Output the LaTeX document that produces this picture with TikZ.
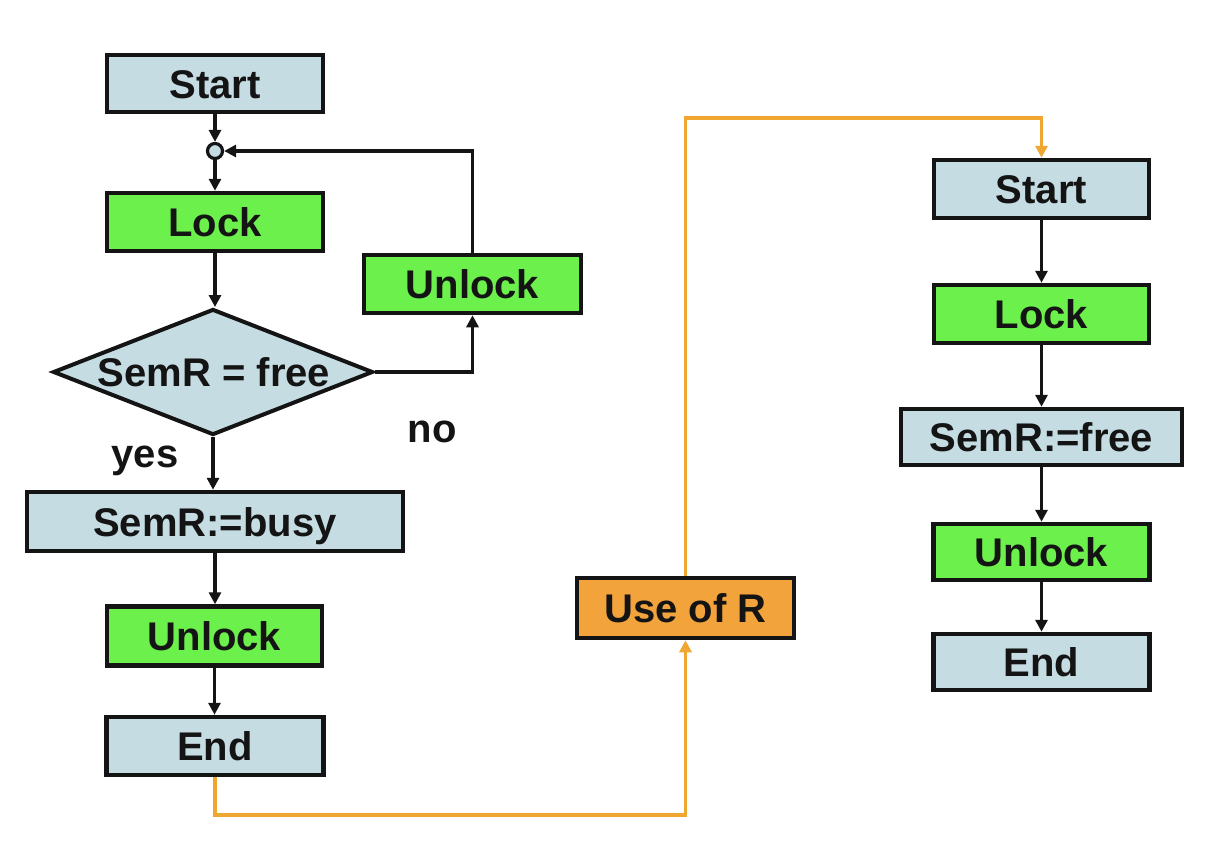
\documentclass[tikz,border=0pt]{standalone}
\usepackage{fontspec}
\setmainfont{Liberation Sans}
\usetikzlibrary{arrows.meta,shapes.geometric}
\definecolor{boxblue}{HTML}{C5DCE3}
\definecolor{boxgreen}{HTML}{6CF04B}
\definecolor{boxorange}{HTML}{F2A33C}
\definecolor{lineorange}{HTML}{F0A732}
\definecolor{ink}{HTML}{141414}
\begin{document}
\begin{tikzpicture}[x=1pt,y=-1pt,
  box/.style={draw=ink, line width=4.5pt, inner sep=0pt,
    font=\fontsize{40}{44}\selectfont\bfseries, text=ink,
    text height=29pt, text depth=0pt},
  bluebox/.style={box, fill=boxblue},
  greenbox/.style={box, fill=boxgreen},
  orangebox/.style={box, fill=boxorange},
  flow/.style={draw=ink, line width=3.5pt, -{Triangle[length=12pt,width=12pt]}},
  oflow/.style={draw=lineorange, line width=3.5pt, -{Triangle[length=12pt,width=12pt]}},
  lbl/.style={font=\fontsize{40}{44}\selectfont\bfseries, text=ink, inner sep=0pt}]
\useasboundingbox[fill=white] (0,0) rectangle (1210,860);

% left column
\node[bluebox, minimum width=216pt, minimum height=57pt] (s1) at (215,83.5) {Start};
\node[circle, draw=ink, fill=boxblue, line width=3.2pt, minimum size=15pt, inner sep=0pt] (c) at (215,151) {};
\node[greenbox, minimum width=216pt, minimum height=58pt] (l1) at (215,222) {Lock};
\node[greenbox, minimum width=217pt, minimum height=58pt] (u1) at (472.5,284) {Unlock};
\node[diamond, draw=ink, fill=boxblue, line width=4pt, minimum width=320pt, minimum height=126pt, inner sep=0pt] (d) at (213,372) {};
\node[lbl] (dt) at (214,372) {SemR = free};
\node[lbl, anchor=base] (yes) at (145,467) {yes};
\node[lbl, anchor=base] (no) at (432,442) {no};
\node[bluebox, minimum width=376pt, minimum height=59pt] (b) at (215,521.5) {SemR:=busy};
\node[greenbox, minimum width=215pt, minimum height=59pt] (u2) at (214.5,636) {Unlock};
\node[bluebox, minimum width=217pt, minimum height=58pt] (e1) at (215,746) {End};

% middle
\node[orangebox, minimum width=217pt, minimum height=60pt] (use) at (685.5,608) {Use of R};

% right column
\node[bluebox, minimum width=215pt, minimum height=58pt] (s2) at (1041.5,189) {Start};
\node[greenbox, minimum width=215pt, minimum height=58pt] (l2) at (1041.5,314) {Lock};
\node[bluebox, minimum width=281pt, minimum height=56pt] (f) at (1041.5,437) {SemR:=free};
\node[greenbox, minimum width=216pt, minimum height=56pt] (u3) at (1041.5,552) {Unlock};
\node[bluebox, minimum width=216pt, minimum height=56pt] (e2) at (1041.5,662) {End};

\coordinate (ob) at (685.5,815);
\coordinate (otop) at (1041.5,118);

% connectors left
\draw[flow] (s1) -- (c);
\draw[flow] (c) -- (l1);
\draw[flow] (l1.south) -- (l1.south |- d.north);
\draw[flow] (d.east) -| (u1.south);
\draw[flow] (u1.north) |- (c.east);
\draw[flow] (d.south) -- (d.south |- b.north);
\draw[flow] (b.south) -- (b.south |- u2.north);
\draw[flow] (u2) -- (u2 |- e1.north);

% orange path
\draw[oflow] (e1.south) |- (ob) -- (use.south);
\draw[oflow] (use.north) |- (otop) -- (s2.north);

% connectors right
\draw[flow] (s2) -- (l2);
\draw[flow] (l2) -- (f);
\draw[flow] (f) -- (u3);
\draw[flow] (u3) -- (e2);
\end{tikzpicture}
\end{document}
